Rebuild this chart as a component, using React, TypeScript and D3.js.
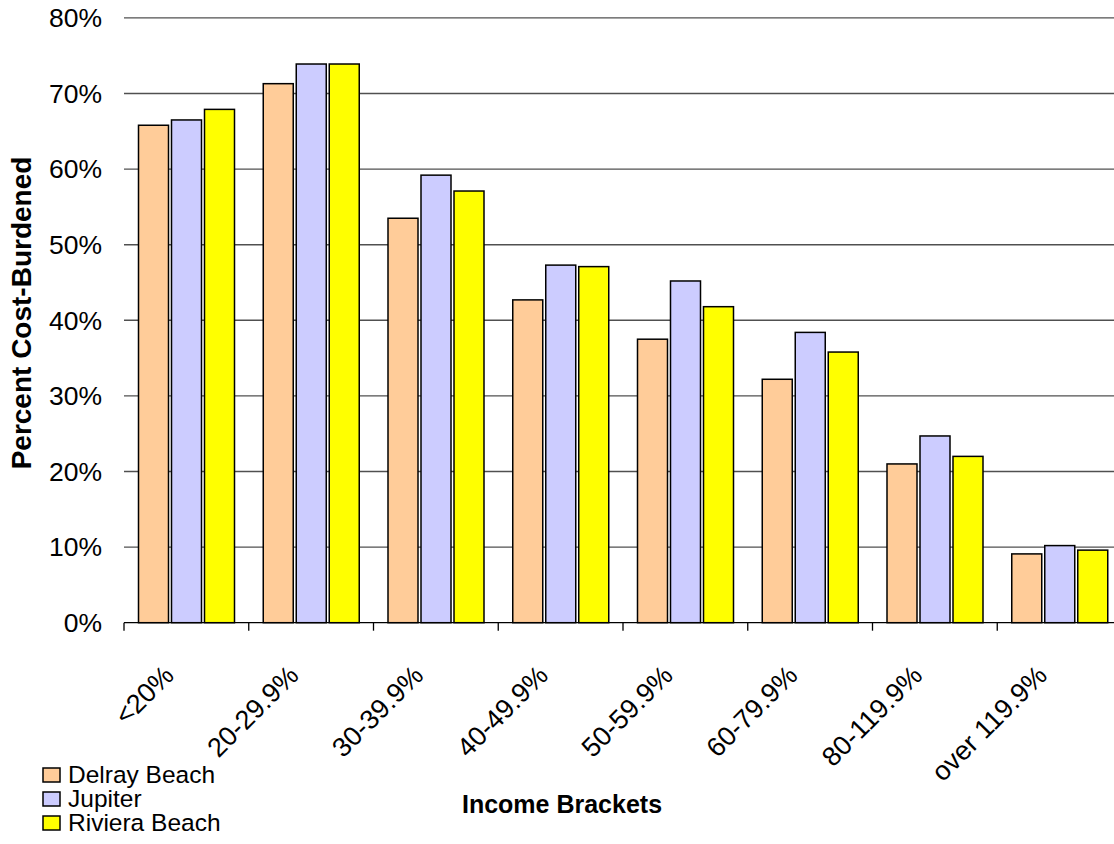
import React from "react";
import * as d3 from "d3";

// Income brackets (share of area median income) and the three cities compared
const categories = ["<20%", "20-29.9%", "30-39.9%", "40-49.9%", "50-59.9%", "60-79.9%", "80-119.9%", "over 119.9%"];
const seriesNames = ["Delray Beach", "Jupiter", "Riviera Beach"];

// Share of households that are cost-burdened, per bracket
const delrayBeach = [0.658, 0.713, 0.535, 0.427, 0.375, 0.322, 0.21, 0.091];
const jupiter = [0.665, 0.739, 0.592, 0.473, 0.452, 0.384, 0.247, 0.102];
const rivieraBeach = [0.679, 0.739, 0.571, 0.471, 0.418, 0.358, 0.22, 0.096];

const yTicks = [0, 0.1, 0.2, 0.3, 0.4, 0.5, 0.6, 0.7, 0.8];
const colors = ["#FFCC99", "#CCCCFF", "#FFFF00"];

const W = 1114;
const H = 844;
const FONT = "'Liberation Sans', Arial, Helvetica, sans-serif";

export default function App() {
  const values = [delrayBeach, jupiter, rivieraBeach];

  const x0 = d3.scaleBand<string>().domain(categories).range([124, 1122]).paddingInner(0).paddingOuter(0);
  const x1 = d3
    .scaleBand<string>()
    .domain(seriesNames)
    .range([14.5, 110.5])
    .paddingInner(3 / 33)
    .paddingOuter(0);
  const y = d3.scaleLinear().domain([0, 0.8]).range([622.7, 17.9]);
  const pct = d3.format(".0%");

  const [xMin, xMax] = x0.range();
  const tickXs = [...categories.map((c) => x0(c) as number), xMax];

  return (
    <svg
      width={W}
      height={H}
      viewBox={`0 0 ${W} ${H}`}
      style={{ position: "absolute", left: 0, top: 0, display: "block", background: "#fff" }}
      fontFamily={FONT}
    >
      {/* horizontal gridlines */}
      {yTicks
        .filter((t) => t > 0)
        .map((t) => (
          <line key={t} x1={xMin} x2={xMax} y1={y(t)} y2={y(t)} stroke="#505050" strokeWidth={1.4} />
        ))}

      {/* y tick labels */}
      {yTicks.map((t) => (
        <text key={t} x={102} y={y(t) + 9.3} textAnchor="end" fontSize={26.5} fill="#000">
          {pct(t)}
        </text>
      ))}

      {/* bars */}
      {categories.map((c, i) => (
        <g key={c} transform={`translate(${x0(c)},0)`}>
          {seriesNames.map((s, j) => {
            const v = values[j][i];
            return (
              <rect
                key={s}
                x={x1(s)}
                y={y(v)}
                width={x1.bandwidth()}
                height={y(0) - y(v)}
                fill={colors[j]}
                stroke="#000"
                strokeWidth={1.5}
              />
            );
          })}
        </g>
      ))}

      {/* category axis */}
      <line x1={xMin} x2={xMax} y1={y(0)} y2={y(0)} stroke="#000" strokeWidth={1.3} />
      {tickXs.map((tx, i) => (
        <line key={i} x1={tx} x2={tx} y1={y(0)} y2={y(0) + 8} stroke="#000" strokeWidth={1.3} />
      ))}
      {categories.map((c) => {
        const cx = (x0(c) as number) + x0.bandwidth() / 2 - 11;
        const cy = 677;
        return (
          <text
            key={c}
            x={cx}
            y={cy}
            textAnchor="end"
            fontSize={27}
            transform={`rotate(-45 ${cx} ${cy})`}
            fill="#000"
          >
            {c}
          </text>
        );
      })}

      {/* axis titles */}
      <text x={562} y={813} textAnchor="middle" fontSize={25} fontWeight="bold" fill="#000">
        Income Brackets
      </text>
      <text
        x={0}
        y={0}
        textAnchor="middle"
        fontSize={28}
        fontWeight="bold"
        fill="#000"
        transform={`translate(31,313) rotate(-90)`}
      >
        Percent Cost-Burdened
      </text>

      {/* legend */}
      {seriesNames.map((s, j) => (
        <g key={s} transform={`translate(0,${j * 24})`}>
          <rect x={43} y={768} width={17} height={14} fill={colors[j]} stroke="#000" strokeWidth={1.5} />
          <text x={68} y={783} fontSize={24.5} fill="#000">
            {s}
          </text>
        </g>
      ))}
    </svg>
  );
}
